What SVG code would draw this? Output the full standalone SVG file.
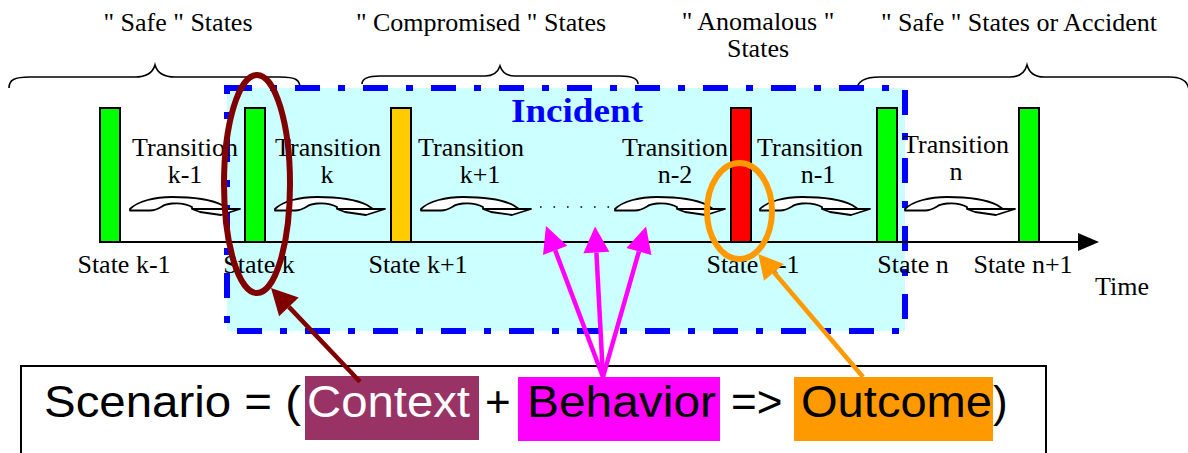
<svg xmlns="http://www.w3.org/2000/svg" width="1188" height="453" viewBox="0 0 1188 453">
<defs>
<style>
.serif{font-family:"Liberation Serif","Times New Roman",serif;font-size:26px;fill:#000}
.mid{text-anchor:middle}
.sans{font-family:"Liberation Sans",Arial,sans-serif;font-size:44px;fill:#000}
.brace{fill:none;stroke:#000;stroke-width:1.6}
.bar{stroke:#000;stroke-width:2}
.tr{fill:#fff;stroke:#000;stroke-width:1.8;stroke-linejoin:round}
</style>
<g id="trArrow">
<path class="tr" d="M0,0 C8,-8 25,-12 42,-12 C60,-12 80,-10 92,-4 L98,0 L110,0 L91,6 L70,3 L62,0 L62,-2 C57,-5 48,-6 42,-5.5 C37,-5 34,-4 32,-2.5 C28,0 25,1.5 20,1.5 L0,1.5 Z"/>
<path d="M62,0 L98,0" fill="none" stroke="#000" stroke-width="1.8"/>
</g>
</defs>
<rect width="1188" height="453" fill="#fff"/>

<g id="group-labels">
<path class="brace" d="M9,88 C9,80 14,77 30,77 L135,77 C148,77 153,72 155,65 C157,72 162,77 175,77 L280,77 C296,77 300,80 300,88"/>
<path class="brace" d="M362,84 C362,79 368,76 380,76 L485,76 C494,76 498,72 500,66 C502,72 506,76 515,76 L620,76 C632,76 638,79 638,84"/>
<path class="brace" d="M857,90 C857,81 865,77 880,77 L1010,77 C1021,77 1025,72 1027,65 C1029,72 1033,77 1044,77 L1170,77 C1182,77 1188,82 1189,90"/>
<text class="serif mid" x="178" y="31">" Safe " States</text>
<text class="serif mid" x="481" y="31">" Compromised " States</text>
<text class="serif mid" x="758" y="30">" Anomalous "</text>
<text class="serif mid" x="758" y="57">States</text>
<text class="serif mid" x="1019" y="31">" Safe " States or Accident</text>
</g>

<g id="incident">
<rect x="227" y="88" width="678" height="243" fill="#CCFFFF"/>
<rect x="227" y="88" width="678" height="243" fill="none" stroke="#0000FF" stroke-width="6" stroke-dasharray="25 18 7 18"/>
<text x="511" y="122" font-family="'Liberation Serif','Times New Roman',serif" font-size="34" font-weight="bold" fill="#0000FF" textLength="132" lengthAdjust="spacingAndGlyphs">Incident</text>
</g>

<g id="timeline">
<line x1="100" y1="242" x2="1080" y2="242" stroke="#000" stroke-width="2"/>
<polygon points="1078,233 1099,242 1078,251" fill="#000"/>
<text class="serif mid" x="1122" y="295">Time</text>
</g>

<g id="state-k-1"><rect class="bar" x="100" y="108" width="20" height="134" fill="#00FF00"/><text class="serif mid" x="124" y="273">State k-1</text></g>
<g id="state-k"><rect class="bar" x="245" y="108" width="20" height="134" fill="#00FF00"/><text class="serif mid" x="259" y="273">State k</text></g>
<g id="state-k+1"><rect class="bar" x="391" y="108" width="20" height="134" fill="#FFCC00"/><text class="serif mid" x="418" y="273">State k+1</text></g>
<g id="state-n-1"><rect class="bar" x="731" y="108" width="20" height="134" fill="#FF0000"/><text class="serif mid" x="753" y="273">State n-1</text></g>
<g id="state-n"><rect class="bar" x="877" y="108" width="20" height="134" fill="#00FF00"/><text class="serif mid" x="913" y="273">State n</text></g>
<g id="state-n+1"><rect class="bar" x="1019" y="108" width="20" height="134" fill="#00FF00"/><text class="serif mid" x="1023" y="273">State n+1</text></g>

<g id="transitions">
<use href="#trArrow" x="130" y="209"/>
<use href="#trArrow" x="275" y="209"/>
<use href="#trArrow" x="421" y="209"/>
<use href="#trArrow" x="615" y="209"/>
<use href="#trArrow" x="760" y="209"/>
<use href="#trArrow" x="905" y="209"/>
<line x1="540" y1="207" x2="610" y2="207" stroke="#000" stroke-width="1.6" stroke-dasharray="1.6 11.9"/>
</g>

<g id="transition-labels">
<text class="serif mid" x="185" y="156">Transition</text><text class="serif mid" x="185" y="183">k-1</text>
<text class="serif mid" x="328" y="156">Transition</text><text class="serif mid" x="327" y="183">k</text>
<text class="serif mid" x="471" y="156">Transition</text><text class="serif mid" x="480" y="183">k+1</text>
<text class="serif mid" x="675" y="156">Transition</text><text class="serif mid" x="675" y="183">n-2</text>
<text class="serif mid" x="810" y="156">Transition</text><text class="serif mid" x="818" y="183">n-1</text>
<text class="serif mid" x="956" y="153">Transition</text><text class="serif mid" x="956" y="180">n</text>
</g>

<g id="scenario">
<rect x="21" y="366" width="1025" height="100" fill="#fff" stroke="#000" stroke-width="2"/>
<rect x="305" y="376" width="174" height="64" fill="#993366"/>
<rect x="518" y="377" width="202" height="64" fill="#FF00FF"/>
<rect x="794" y="377" width="199" height="64" fill="#FF9900"/>
<text class="sans" x="44" y="417" textLength="257" lengthAdjust="spacingAndGlyphs">Scenario = (</text>
<text class="sans" x="307" y="417" textLength="163" lengthAdjust="spacingAndGlyphs" style="fill:#fff">Context</text>
<text class="sans" x="485" y="417">+</text>
<text class="sans" x="527" y="417" textLength="189" lengthAdjust="spacingAndGlyphs">Behavior</text>
<text class="sans" x="731" y="417">=&gt;</text>
<text class="sans" x="801" y="417" textLength="191" lengthAdjust="spacingAndGlyphs">Outcome</text>
<text class="sans" x="993" y="417">)</text>
</g>

<g id="highlight-context"><ellipse cx="257" cy="184" rx="33" ry="109" fill="none" stroke="#800000" stroke-width="6"/></g>
<g id="highlight-outcome"><ellipse cx="739.5" cy="211" rx="32.5" ry="48" fill="none" stroke="#FF9900" stroke-width="6"/></g>

<g id="connectors">
<line x1="360" y1="381.7" x2="288.9" y2="306.9" stroke="#800000" stroke-width="4.5"/>
<polygon points="271,288 298.7,297.6 279.1,316.2" fill="#800000"/>
<line x1="603" y1="377" x2="555.2" y2="250.3" stroke="#FF00FF" stroke-width="4.5"/>
<polygon points="546,226 567.3,245.7 543,254.9" fill="#FF00FF"/>
<line x1="603" y1="377" x2="596.4" y2="252.5" stroke="#FF00FF" stroke-width="4.5"/>
<polygon points="595,226.5 609.4,251.8 583.4,253.2" fill="#FF00FF"/>
<line x1="603" y1="377" x2="638.9" y2="251.5" stroke="#FF00FF" stroke-width="4.5"/>
<polygon points="646,226.5 651.4,255.1 626.4,247.9" fill="#FF00FF"/>
<line x1="863" y1="377" x2="773.9" y2="272.3" stroke="#FF9900" stroke-width="4.5"/>
<polygon points="758.3,254 783.8,263.9 764,280.7" fill="#FF9900"/>
</g>
</svg>
